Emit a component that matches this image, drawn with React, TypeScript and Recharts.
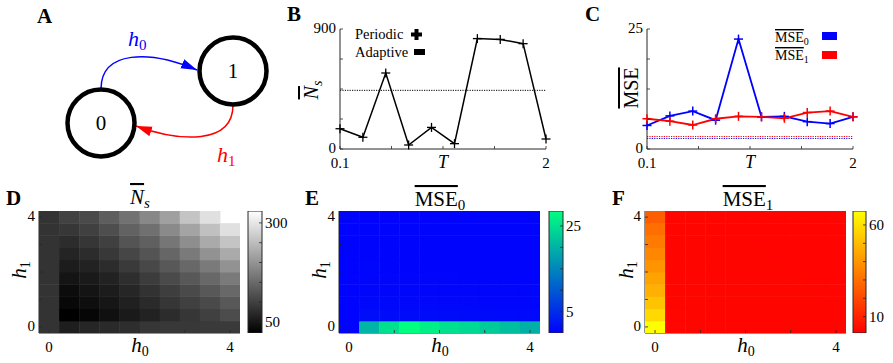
import React from 'react';
import { LineChart, Line, XAxis, YAxis, ReferenceLine, ScatterChart, Scatter, BarChart, Bar } from 'recharts';

const FONT = '"Liberation Serif", "Times New Roman", serif';
const AX = '#262626';

// ---------- Panel B / C data ----------
const T_VALUES = [0.1, 0.311, 0.522, 0.733, 0.944, 1.156, 1.367, 1.578, 1.789, 2];
const NS_PERIODIC = [152, 88, 570, 30, 162, 40, 828, 822, 790, 75];
const NS_ADAPTIVE = 440;
const MSE0_PERIODIC = [4.9, 6.9, 7.9, 6.0, 22.9, 6.7, 6.8, 5.7, 5.3, 6.7];
const MSE1_PERIODIC = [6.3, 5.8, 5.0, 6.3, 6.8, 6.7, 6.4, 7.6, 7.9, 6.7];
const MSE0_ADAPTIVE = 2.2;
const MSE1_ADAPTIVE = 2.6;
const T_TICKS = [0.1, 0.575, 1.05, 1.525, 2];
const NS_TICKS = [0, 225, 450, 675, 900];
const MSE_TICKS = [0, 6.25, 12.5, 18.75, 25];

// ---------- Heatmap data (rows: h1 from 0 up to 4, columns: h0 from 0 to 4) ----------
const H_GRID = [0, 0.444, 0.889, 1.333, 1.778, 2.222, 2.667, 3.111, 3.556, 4];
const HEAT_TICKS = [0, 1, 2, 3, 4];

const NS_GRID = [
  [84, 58, 68, 73, 78, 87, 90, 90, 92, 92],
  [84, 22, 29, 41, 53, 63, 75, 87, 99, 114],
  [84, 32, 39, 49, 61, 73, 87, 99, 111, 128],
  [84, 36, 46, 56, 68, 82, 97, 111, 128, 148],
  [84, 46, 53, 63, 78, 94, 111, 128, 148, 169],
  [84, 56, 63, 75, 92, 109, 128, 148, 169, 198],
  [84, 65, 75, 90, 107, 123, 145, 169, 198, 227],
  [84, 75, 87, 99, 123, 138, 165, 194, 227, 259],
  [84, 88, 99, 116, 140, 157, 189, 220, 254, 293],
  [84, 102, 111, 136, 160, 186, 215, 259, 293, null],
];

const MSE0_GRID = [
  [0.3, 20.2, 25.1, 28.5, 26.8, 25.1, 24.2, 22.8, 21.4, 19.7],
  [0.3, 1.4, 1.3, 1.3, 1.2, 1.2, 1.1, 1.1, 1.0, 1.0],
  [0.3, 0.9, 0.9, 0.8, 0.8, 0.8, 0.8, 0.7, 0.7, 0.7],
  [0.3, 0.7, 0.7, 0.7, 0.6, 0.6, 0.6, 0.6, 0.6, 0.6],
  [0.3, 0.6, 0.6, 0.6, 0.6, 0.6, 0.5, 0.5, 0.5, 0.5],
  [0.3, 0.6, 0.5, 0.5, 0.5, 0.5, 0.5, 0.5, 0.5, 0.5],
  [0.3, 0.5, 0.5, 0.5, 0.5, 0.5, 0.5, 0.4, 0.4, 0.4],
  [0.3, 0.5, 0.5, 0.4, 0.4, 0.4, 0.4, 0.4, 0.4, 0.4],
  [0.3, 0.4, 0.4, 0.4, 0.4, 0.4, 0.4, 0.4, 0.4, 0.4],
  [0.3, 0.4, 0.4, 0.4, 0.4, 0.4, 0.4, 0.4, 0.4, 0.4],
];

const MSE1_GRID = [
  [67.6, 2.6, 2.5, 2.5, 2.4, 2.4, 2.4, 2.3, 2.3, 2.3],
  [57.6, 2.6, 2.5, 2.5, 2.4, 2.4, 2.4, 2.3, 2.3, 2.3],
  [52.3, 2.5, 2.5, 2.4, 2.4, 2.4, 2.3, 2.3, 2.3, 2.3],
  [47.0, 2.5, 2.4, 2.4, 2.4, 2.3, 2.3, 2.3, 2.3, 2.2],
  [43.7, 2.5, 2.4, 2.4, 2.3, 2.3, 2.3, 2.3, 2.2, 2.2],
  [39.7, 2.4, 2.4, 2.3, 2.3, 2.3, 2.3, 2.2, 2.2, 2.2],
  [36.3, 2.4, 2.4, 2.3, 2.3, 2.3, 2.2, 2.2, 2.2, 2.2],
  [33.0, 2.4, 2.3, 2.3, 2.3, 2.2, 2.2, 2.2, 2.2, 2.2],
  [29.7, 2.4, 2.3, 2.3, 2.2, 2.2, 2.2, 2.2, 2.2, 2.2],
  [25.7, 2.3, 2.3, 2.3, 2.2, 2.2, 2.2, 2.2, 2.2, 2.2],
];

const NS_CBAR = { lo: 22, hi: 330, ticks: [50, 100, 150, 200, 250, 300], labels: [50, 300] };
const MSE0_CBAR = { lo: 0, hi: 28.5, ticks: [5, 10, 15, 20, 25], labels: [5, 25] };
const MSE1_CBAR = { lo: 1.1, hi: 67.6, ticks: [10, 20, 30, 40, 50, 60], labels: [10, 60] };

const clamp = (t: number) => Math.max(0, Math.min(1, t));
const grayColor = (v: number) => {
  const g = Math.round(clamp((v - NS_CBAR.lo) / (NS_CBAR.hi - NS_CBAR.lo)) * 255);
  return `rgb(${g},${g},${g})`;
};
const winterColor = (v: number) => {
  const t = clamp((v - MSE0_CBAR.lo) / (MSE0_CBAR.hi - MSE0_CBAR.lo));
  return `rgb(0,${Math.round(255 * t)},${Math.round(255 * (1 - 0.5 * t))})`;
};
const autumnColor = (v: number) => {
  const t = clamp((v - MSE1_CBAR.lo) / (MSE1_CBAR.hi - MSE1_CBAR.lo));
  return `rgb(255,${Math.round(255 * t)},0)`;
};

function gridPoints(grid: (number | null)[][]) {
  const pts: { x: number; y: number; v: number }[] = [];
  grid.forEach((row, r) =>
    row.forEach((v, c) => {
      if (v != null) pts.push({ x: H_GRID[c], y: H_GRID[r], v });
    })
  );
  return pts;
}

const bData = T_VALUES.map((t, i) => ({ T: t, ns: NS_PERIODIC[i] }));
const cData = T_VALUES.map((t, i) => ({ T: t, m0: MSE0_PERIODIC[i], m1: MSE1_PERIODIC[i] }));

// ---------- tick renderers ----------
function BottomTick(props: any) {
  const { x, y, payload, fmt, dy } = props;
  const lab = fmt(payload.value);
  return (
    <g>
      <line x1={x} x2={x} y1={y} y2={y - 3} stroke={AX} strokeWidth={0.8} />
      {lab !== '' && (
        <text x={x} y={y + dy} textAnchor="middle" fontSize={15} fontFamily={FONT} fill="#000">
          {lab}
        </text>
      )}
    </g>
  );
}
function LeftTick(props: any) {
  const { x, y, payload, fmt } = props;
  const lab = fmt(payload.value);
  return (
    <g>
      <line x1={x} x2={x + 3} y1={y} y2={y} stroke={AX} strokeWidth={0.8} />
      {lab !== '' && (
        <text x={x - 4} y={y + 4} textAnchor="end" fontSize={15} fontFamily={FONT} fill="#000">
          {lab}
        </text>
      )}
    </g>
  );
}
function RightTick(props: any) {
  const { x, y, payload, fmt } = props;
  const lab = fmt(payload.value);
  return (
    <g>
      <line x1={x} x2={x - 3} y1={y} y2={y} stroke={AX} strokeWidth={0.8} />
      {lab !== '' && (
        <text x={x + 3} y={y + 5} textAnchor="start" fontSize={15} fontFamily={FONT} fill="#000">
          {lab}
        </text>
      )}
    </g>
  );
}

function PlusMark({ cx, cy, r, color, w }: any) {
  if (cx == null || cy == null) return null;
  return (
    <g>
      <line x1={cx - r} x2={cx + r} y1={cy} y2={cy} stroke={color} strokeWidth={w} />
      <line x1={cx} x2={cx} y1={cy - r} y2={cy + r} stroke={color} strokeWidth={w} />
    </g>
  );
}

const fmtT = (v: number) => (v === 0.1 ? '0.1' : v === 2 ? '2' : '');
const fmtEnds = (lo: number, hi: number) => (v: number) => (v === lo || v === hi ? String(v) : '');

// ---------- Heatmap ----------
function Heatmap({ left, grid, color }: any) {
  const plotW = 201;
  const plotH = 122;
  const cw = plotW / H_GRID.length;
  const ch = plotH / H_GRID.length;
  const pts = gridPoints(grid);
  const half = (H_GRID[1] - H_GRID[0]) / 2;
  const domain = [H_GRID[0] - half, H_GRID[H_GRID.length - 1] + half];
  return (
    <div style={{ position: 'absolute', left: left - 30, top: 181 }}>
      <ScatterChart width={plotW + 60} height={plotH + 60} margin={{ top: 30, right: 30, bottom: 29, left: 29 }}>
        <Scatter
          data={pts}
          isAnimationActive={false}
          shape={(p: any) => (
            <rect x={p.cx - cw / 2} y={p.cy - ch / 2} width={cw + 0.5} height={ch + 0.5} fill={color(p.payload.v)} />
          )}
        />
        <XAxis
          type="number"
          dataKey="x"
          domain={domain}
          ticks={HEAT_TICKS}
          height={1}
          interval={0}
          allowDataOverflow
          tickLine={false}
          tickSize={0}
          tickMargin={0}
          axisLine={{ stroke: AX, strokeWidth: 1 }}
          tick={(p: any) => <BottomTick {...p} fmt={fmtEnds(0, 4)} dy={19} />}
        />
        <YAxis
          type="number"
          dataKey="y"
          domain={domain}
          ticks={HEAT_TICKS}
          width={1}
          interval={0}
          allowDataOverflow
          tickLine={false}
          tickSize={0}
          tickMargin={0}
          axisLine={{ stroke: AX, strokeWidth: 1 }}
          tick={(p: any) => <LeftTick {...p} fmt={fmtEnds(0, 4)} />}
        />
      </ScatterChart>
    </div>
  );
}

function Colorbar({ left, width, cbar, id, c0, c1 }: any) {
  return (
    <div style={{ position: 'absolute', left: left - 5, top: 181 }}>
      <BarChart
        width={width + 45}
        height={182}
        data={[{ k: 'c', r: [cbar.lo, cbar.hi] }]}
        margin={{ top: 30, right: 39, bottom: 30, left: 5 }}
        barCategoryGap={0}
      >
        <defs>
          <linearGradient id={id} x1="0" y1="1" x2="0" y2="0">
            <stop offset="0" stopColor={c0} />
            <stop offset="1" stopColor={c1} />
          </linearGradient>
        </defs>
        <XAxis dataKey="k" hide />
        <YAxis
          orientation="right"
          type="number"
          domain={[cbar.lo, cbar.hi]}
          ticks={cbar.ticks}
          width={1}
          interval={0}
          allowDataOverflow
          tickLine={false}
          tickSize={0}
          tickMargin={0}
          axisLine={false}
          tick={(p: any) => <RightTick {...p} fmt={(v: number) => (cbar.labels.includes(v) ? String(v) : '')} />}
        />
        <Bar dataKey="r" fill={`url(#${id})`} stroke={AX} strokeWidth={1} isAnimationActive={false} />
      </BarChart>
    </div>
  );
}

// ---------- overlay helpers ----------
const Ov = (props: any) => <tspan style={{ textDecoration: 'overline' }} {...props} />;

export default function App() {
  return (
    <div
      style={{
        position: 'absolute',
        left: 0,
        top: 0,
        width: 893,
        height: 363,
        background: '#fff',
        overflow: 'hidden',
        fontFamily: FONT,
      }}
    >
      {/* Panel B */}
      <div style={{ position: 'absolute', left: 290, top: 0 }}>
        <LineChart width={300} height={170} data={bData} margin={{ top: 29, right: 44, bottom: 20, left: 49 }}>
          <XAxis
            type="number"
            dataKey="T"
            domain={[0.1, 2]}
            ticks={T_TICKS}
            height={1}
            interval={0}
            tickLine={false}
            tickSize={0}
            tickMargin={0}
            axisLine={{ stroke: AX }}
            tick={(p: any) => <BottomTick {...p} fmt={fmtT} dy={19} />}
          />
          <YAxis
            type="number"
            domain={[0, 900]}
            ticks={NS_TICKS}
            width={1}
            interval={0}
            tickLine={false}
            tickSize={0}
            tickMargin={0}
            axisLine={{ stroke: AX }}
            tick={(p: any) => <LeftTick {...p} fmt={fmtEnds(0, 900)} />}
          />
          <ReferenceLine y={NS_ADAPTIVE} stroke="#000" strokeWidth={1} strokeDasharray="1.2 1.2" />
          <Line
            dataKey="ns"
            type="linear"
            stroke="#000"
            strokeWidth={1.5}
            isAnimationActive={false}
            dot={(p: any) => <PlusMark key={`b${p.index}`} cx={p.cx} cy={p.cy} r={4.5} color="#000" w={1.3} />}
          />
        </LineChart>
      </div>

      {/* Panel C */}
      <div style={{ position: 'absolute', left: 590, top: 0 }}>
        <LineChart width={303} height={170} data={cData} margin={{ top: 29, right: 40, bottom: 20, left: 56 }}>
          <XAxis
            type="number"
            dataKey="T"
            domain={[0.1, 2]}
            ticks={T_TICKS}
            height={1}
            interval={0}
            tickLine={false}
            tickSize={0}
            tickMargin={0}
            axisLine={{ stroke: AX }}
            tick={(p: any) => <BottomTick {...p} fmt={fmtT} dy={19} />}
          />
          <YAxis
            type="number"
            domain={[0, 25]}
            ticks={MSE_TICKS}
            width={1}
            interval={0}
            tickLine={false}
            tickSize={0}
            tickMargin={0}
            axisLine={{ stroke: AX }}
            tick={(p: any) => <LeftTick {...p} fmt={fmtEnds(0, 25)} />}
          />
          <ReferenceLine y={MSE1_ADAPTIVE} stroke="#ff0000" strokeWidth={1} strokeDasharray="1.2 1.2" />
          <ReferenceLine y={MSE0_ADAPTIVE} stroke="#0000ff" strokeWidth={1} strokeDasharray="1.2 1.2" />
          <Line
            dataKey="m0"
            type="linear"
            stroke="#0000ff"
            strokeWidth={1.8}
            isAnimationActive={false}
            dot={(p: any) => <PlusMark key={`c0${p.index}`} cx={p.cx} cy={p.cy} r={4.5} color="#0000ff" w={1.5} />}
          />
          <Line
            dataKey="m1"
            type="linear"
            stroke="#ff0000"
            strokeWidth={1.8}
            isAnimationActive={false}
            dot={(p: any) => <PlusMark key={`c1${p.index}`} cx={p.cx} cy={p.cy} r={4.5} color="#ff0000" w={1.5} />}
          />
        </LineChart>
      </div>

      {/* Heatmaps */}
      <Heatmap left={39} grid={NS_GRID} color={grayColor} />
      <Colorbar left={248} width={14} cbar={NS_CBAR} id="gGray" c0="#000000" c1="#ffffff" />
      <Heatmap left={338.5} grid={MSE0_GRID} color={winterColor} />
      <Colorbar left={548.5} width={14} cbar={MSE0_CBAR} id="gWinter" c0="#0000ff" c1="#00ff80" />
      <Heatmap left={645} grid={MSE1_GRID} color={autumnColor} />
      <Colorbar left={853} width={13} cbar={MSE1_CBAR} id="gAutumn" c0="#ff0000" c1="#ffff00" />

      {/* Overlay: diagram, labels, legends */}
      <svg
        width={893}
        height={363}
        style={{ position: 'absolute', left: 0, top: 0, pointerEvents: 'none' }}
        fontFamily={FONT}
      >
        <defs>
          <marker id="arrBlue" markerUnits="userSpaceOnUse" markerWidth={17} markerHeight={11} refX={16} refY={5} orient="auto">
            <path d="M0,0 L16,5 L0,10 z" fill="#0000ff" />
          </marker>
          <marker id="arrRed" markerUnits="userSpaceOnUse" markerWidth={17} markerHeight={11} refX={16} refY={5} orient="auto">
            <path d="M0,0 L16,5 L0,10 z" fill="#ff0000" />
          </marker>
        </defs>

        {/* Panel letters */}
        <g fontWeight="bold" fontSize={21} fill="#000">
          <text x={37} y={23}>A</text>
          <text x={287} y={21}>B</text>
          <text x={585} y={21}>C</text>
          <text x={6} y={205}>D</text>
          <text x={305} y={205}>E</text>
          <text x={612} y={205}>F</text>
        </g>

        {/* Panel A diagram */}
        <path d="M101,89 C101,50 150,50 197,70" stroke="#0000ff" strokeWidth={1.5} fill="none" markerEnd="url(#arrBlue)" />
        <path d="M233,105 C233,145 180,142 136,126" stroke="#ff0000" strokeWidth={1.5} fill="none" markerEnd="url(#arrRed)" />
        <circle cx={101} cy={123} r={33.5} fill="none" stroke="#000" strokeWidth={4.5} />
        <circle cx={233} cy={71} r={33.5} fill="none" stroke="#000" strokeWidth={4.5} />
        <text x={101} y={130} fontSize={21} textAnchor="middle">0</text>
        <text x={233} y={78} fontSize={21} textAnchor="middle">1</text>
        <text x={128} y={46} fontSize={22} fill="#0000ff">
          <tspan fontStyle="italic">h</tspan>
          <tspan fontSize={15} dy={4}>0</tspan>
        </text>
        <text x={217} y={162} fontSize={22} fill="#ff0000">
          <tspan fontStyle="italic">h</tspan>
          <tspan fontSize={15} dy={4}>1</tspan>
        </text>

        {/* Panel B labels */}
        <text x={443} y={168} fontSize={18} fontStyle="italic" textAnchor="middle">T</text>
        <text transform="rotate(-90 318 90)" x={318} y={90} fontSize={20} textAnchor="middle">
          <Ov fontStyle="italic">N</Ov>
          <tspan fontSize={14} fontStyle="italic" dy={4}>s</tspan>
        </text>
        <text x={355} y={39} fontSize={14.5}>Periodic</text>
        <rect x={411} y={32.5} width={11} height={4} fill="#000" />
        <rect x={414.5} y={29} width={4} height={11} fill="#000" />
        <text x={355} y={57} fontSize={14.5}>Adaptive</text>
        <rect x={414} y={49} width={11} height={6} fill="#000" />

        {/* Panel C labels */}
        <text x={750} y={168} fontSize={18} fontStyle="italic" textAnchor="middle">T</text>
        <text transform="rotate(-90 638 88)" x={638} y={88} fontSize={20} textAnchor="middle">
          <Ov>MSE</Ov>
        </text>
        <text x={775} y={42} fontSize={14}>
          <Ov>MSE</Ov>
          <tspan fontSize={10} dy={3}>0</tspan>
        </text>
        <rect x={822} y={32} width={15} height={8} fill="#0000ff" />
        <text x={775} y={60} fontSize={14}>
          <Ov>MSE</Ov>
          <tspan fontSize={10} dy={3}>1</tspan>
        </text>
        <rect x={822} y={51} width={15} height={8} fill="#ff0000" />

        {/* Heatmap titles and labels */}
        <text x={140} y={204} fontSize={21} textAnchor="middle">
          <Ov fontStyle="italic">N</Ov>
          <tspan fontSize={15} fontStyle="italic" dy={4}>s</tspan>
        </text>
        <text x={440} y={206} fontSize={21} textAnchor="middle">
          <Ov>MSE</Ov>
          <tspan fontSize={15} dy={4}>0</tspan>
        </text>
        <text x={748} y={206} fontSize={21} textAnchor="middle">
          <Ov>MSE</Ov>
          <tspan fontSize={15} dy={4}>1</tspan>
        </text>

        {[140, 440, 746].map((cx, i) => (
          <text key={`h0${i}`} x={cx} y={352} fontSize={21} textAnchor="middle">
            <tspan fontStyle="italic">h</tspan>
            <tspan fontSize={14} dy={4}>0</tspan>
          </text>
        ))}
        {[26, 326, 633].map((cx, i) => (
          <text key={`h1${i}`} transform={`rotate(-90 ${cx} 270)`} x={cx} y={270} fontSize={21} textAnchor="middle">
            <tspan fontStyle="italic">h</tspan>
            <tspan fontSize={14} dy={4}>1</tspan>
          </text>
        ))}
      </svg>
    </div>
  );
}
